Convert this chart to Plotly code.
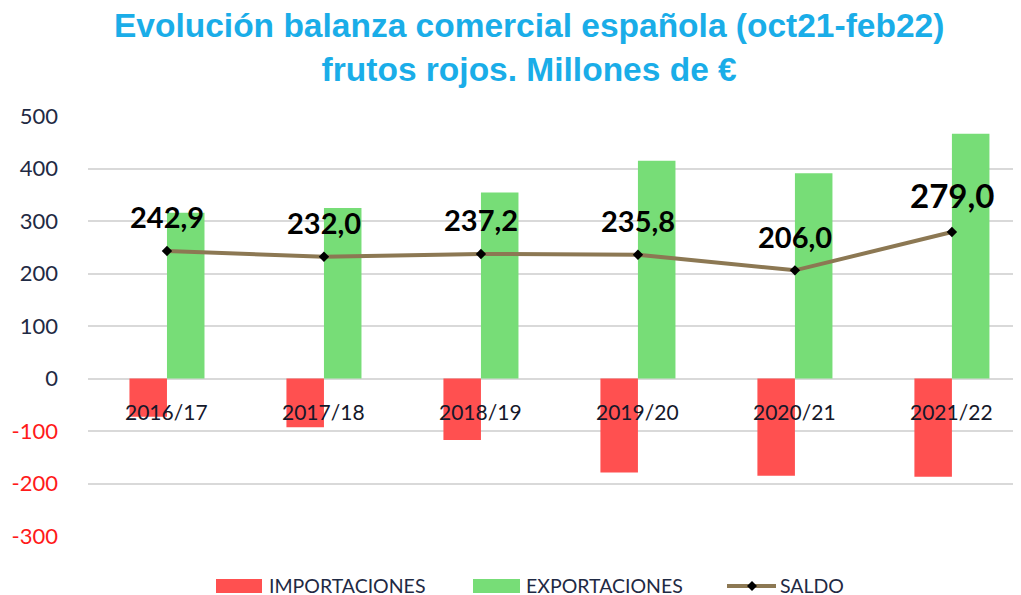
import plotly.graph_objects as go

categories = ["2016/17", "2017/18", "2018/19", "2019/20", "2020/21", "2021/22"]
importaciones = [-73, -93, -117, -179, -185, -187]
exportaciones = [315.9, 325.0, 354.2, 414.8, 391.0, 466.0]
saldo = [242.9, 232.0, 237.2, 235.8, 206.0, 279.0]
legend_names = ["IMPORTACIONES", "EXPORTACIONES", "SALDO"]
title_text = "Evolución balanza comercial española (oct21-feb22)<br>frutos rojos. Millones de €"

ytick_vals = [500, 400, 300, 200, 100, 0, -100, -200, -300]
ytick_text = [
    str(v) if v >= 0 else f"<span style='color:#FF1A1A'>{v}</span>"
    for v in ytick_vals
]

W, H = 1021, 595
OFF = 8  # page body margin offset
# plot area in screenshot pixels: x 88..1021, y 116..536
ML, MR = 88 - OFF, W - (1021 - OFF)
MT, MB = 116 - OFF, H - (536 - OFF)
PW, PH = W - ML - MR, H - MT - MB


def px(xp):
    return (xp - OFF - ML) / PW


def py(yp):
    return (H - MB - (yp - OFF)) / PH


NAVY = "#1F2A44"
RED, GREEN, BROWN = "#FF5050", "#77DD77", "#8C7853"

fig = go.Figure()
fig.add_trace(go.Bar(x=categories, y=importaciones, name=legend_names[0],
                     marker=dict(color=RED, line=dict(width=0))))
fig.add_trace(go.Bar(x=categories, y=exportaciones, name=legend_names[1],
                     marker=dict(color=GREEN, line=dict(width=0))))
fig.add_trace(go.Scatter(x=categories, y=saldo, name=legend_names[2], mode="lines+markers",
                         line=dict(color=BROWN, width=4),
                         marker=dict(symbol="diamond", size=8, color="black")))

# data labels for SALDO
for i, (c, v) in enumerate(zip(categories, saldo)):
    fig.add_annotation(x=c, y=v, xref="x", yref="y", text=f"{v:.1f}".replace(".", ","),
                       showarrow=False, yanchor="middle", yshift=37 if i == 5 else 34,
                       font=dict(family="Lato", size=33 if i == 5 else 29,
                                 color="black", weight="bold"))

# category labels next to the zero line
for c in categories:
    fig.add_annotation(x=c, y=-63, xref="x", yref="y", text=c, showarrow=False,
                       font=dict(family="Lato", size=21, color="#15182A"))

# title
fig.add_annotation(x=px(529), y=py(48), xref="paper", yref="paper", text=title_text,
                   showarrow=False, xanchor="center", yanchor="middle",
                   font=dict(family="Liberation Sans", size=33.5, color="#1AADE8", weight="bold"))

# custom legend
leg_y = py(586)
fig.add_shape(type="rect", xref="paper", yref="paper", x0=px(216), x1=px(262),
              y0=py(593), y1=py(579), fillcolor=RED, line=dict(width=0))
fig.add_shape(type="rect", xref="paper", yref="paper", x0=px(473), x1=px(520),
              y0=py(593), y1=py(579), fillcolor=GREEN, line=dict(width=0))
fig.add_shape(type="line", xref="paper", yref="paper", x0=px(727), x1=px(776),
              y0=leg_y, y1=leg_y, line=dict(color=BROWN, width=4))
fig.add_shape(type="path", xref="paper", yref="paper",
              xsizemode="pixel", ysizemode="pixel", xanchor=px(752), yanchor=leg_y,
              path="M 0 5 L 5 0 L 0 -5 L -5 0 Z", fillcolor="black", line=dict(width=0))
for name, xs in zip(legend_names, [267, 524, 778]):
    fig.add_annotation(x=px(xs), y=py(585), xref="paper", yref="paper", text=name,
                       showarrow=False, xanchor="left", yanchor="middle",
                       font=dict(family="Lato", size=19.5, color=NAVY))

fig.update_layout(
    width=W, height=H,
    paper_bgcolor="white", plot_bgcolor="white",
    margin=dict(l=ML, r=MR, t=MT, b=MB, autoexpand=False),
    barmode="group", bargap=0.522, bargroupgap=0,
    showlegend=False,
    xaxis=dict(showticklabels=False, showgrid=False, zeroline=False, showline=False,
               range=[-0.503, 5.44]),
    yaxis=dict(range=[-300, 500], tickvals=ytick_vals, ticktext=ytick_text,
               gridcolor="#D9D9D9", gridwidth=1.5, zeroline=True, zerolinecolor="#D9D9D9",
               zerolinewidth=1.5, showline=False, ticks="", ticklabelstandoff=29,
               tickfont=dict(family="Lato", size=22, color=NAVY)),
)
fig.write_html("out.html")
